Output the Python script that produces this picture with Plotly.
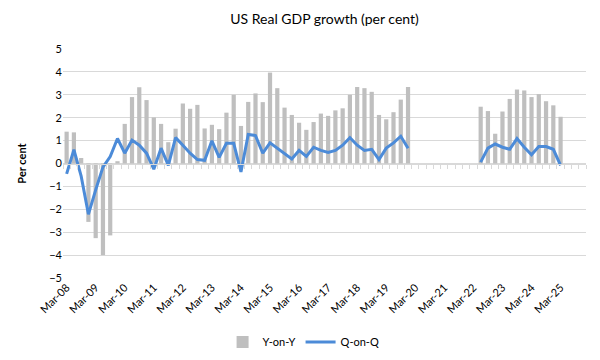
import plotly.graph_objects as go

# ---- data ----
years = list(range(2008, 2026))
months = ["Mar", "Jun", "Sep", "Dec"]
quarters = [f"{m}-{str(y)[2:]}" for y in years for m in months]  # Mar-08 .. Dec-25 (72)

yoy = [1.39, 1.36, 0.24, -2.55, -3.26, -4.0, -3.14, 0.1, 1.73, 2.9, 3.33, 2.77,
       2.01, 1.73, 0.93, 1.52, 2.62, 2.39, 2.56, 1.53, 1.69, 1.5, 2.22, 3.0,
       1.64, 2.69, 3.06, 2.68, 3.97, 3.29, 2.44, 2.12, 1.78, 1.47, 1.81, 2.18,
       2.08, 2.32, 2.41, 3.0, 3.34, 3.29, 3.13, 2.12, 1.93, 2.24, 2.79, 3.34,
       None, None, None, None, None, None, None, None, None,
       2.48, 2.29, 1.3, 2.27, 2.82, 3.23, 3.19, 2.9, 3.03, 2.72, 2.54, 2.04,
       None, None, None]

qoq = [-0.45, 0.6, -0.55, -2.22, -1.15, -0.16, 0.3, 1.09, 0.45, 1.02, 0.8, 0.45,
       -0.25, 0.67, -0.08, 1.13, 0.8, 0.45, 0.17, 0.14, 0.99, 0.27, 0.88, 0.88,
       -0.37, 1.27, 1.22, 0.45, 0.9, 0.67, 0.42, 0.2, 0.57, 0.31, 0.71, 0.57,
       0.48, 0.57, 0.8, 1.13, 0.8, 0.57, 0.62, 0.17, 0.67, 0.9, 1.19, 0.67,
       None, None, None, None, None, None, None, None, None,
       0.06, 0.67, 0.85, 0.71, 0.62, 1.09, 0.71, 0.38, 0.74, 0.74, 0.62, -0.08,
       None, None, None]

y_ticks = [-5, -4, -3, -2, -1, 0, 1, 2, 3, 4, 5]
label_step = 4

# ---- figure ----
idx = list(range(len(quarters)))
font_family = "Lato, 'Open Sans', sans-serif"

fig = go.Figure()
fig.add_trace(go.Bar(x=idx, y=yoy, name="Y-on-Y", marker_color="#BFBFBF",
                     marker_line_width=0))
fig.add_trace(go.Scatter(x=idx, y=qoq, name="Q-on-Q", mode="lines",
                         line=dict(color="#4C8BD8", width=3), connectgaps=False))
# invisible helper trace for the zero-crossing tick axis
fig.add_trace(go.Scatter(x=[idx[0], idx[-1]], y=[0, 0], xaxis="x2", mode="lines",
                         line=dict(width=0), showlegend=False, hoverinfo="skip"))

tick_idx = idx[::label_step]
tick_txt = quarters[::label_step]
xr = [-0.5, len(quarters) - 0.5]

fig.update_layout(
    width=600, height=360,
    margin=dict(l=55, r=22, t=41, b=83),
    paper_bgcolor="white", plot_bgcolor="white",
    font=dict(family=font_family, size=11, color="#404040"),
    title=dict(text="US Real GDP growth (per cent)", x=0.5, xref="paper",
               y=0.968, yanchor="middle",
               font=dict(family=font_family, size=14, color="#000000")),
    bargap=0.42,
    showlegend=True,
    legend=dict(orientation="h", x=0.46, xanchor="center", y=-0.28, yanchor="middle",
                font=dict(size=11, color="#000000"), itemwidth=30, traceorder="normal"),
    xaxis=dict(range=xr, tickmode="array", tickvals=tick_idx, ticktext=tick_txt,
               tickangle=-45, showgrid=False, zeroline=False, showline=False,
               ticks="", tickfont=dict(size=11, color="#000000")),
    xaxis2=dict(range=xr, overlaying="x", anchor="free", position=0.5,
                side="bottom", tickmode="array",
                tickvals=[i - 0.5 for i in range(len(quarters) + 1)],
                ticks="outside", ticklen=4, tickcolor="#D9D9D9", tickwidth=1,
                showticklabels=False, showgrid=False, zeroline=False,
                showline=True, linecolor="#D9D9D9", linewidth=1),
    yaxis=dict(range=[-5, 5], tickmode="array", tickvals=y_ticks,
               showgrid=True, gridcolor="#D9D9D9", gridwidth=1, zeroline=False,
               showline=False, ticks="",
               tickfont=dict(size=11, color="#000000"),
               title=dict(text="<b>Per cent</b>", standoff=20,
                          font=dict(size=11, color="#000000"))),
)

fig.write_html("out.html")
